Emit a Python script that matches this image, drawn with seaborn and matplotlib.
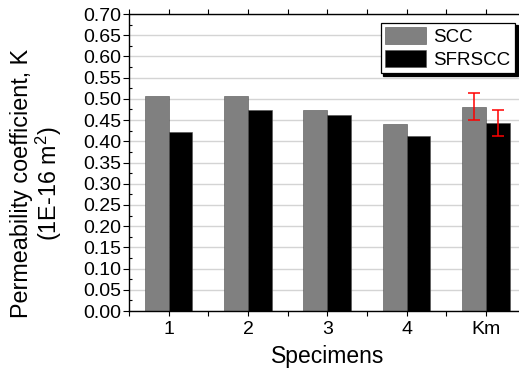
import pandas as pd
import numpy as np
import seaborn as sns
import matplotlib.pyplot as plt
from matplotlib.ticker import MultipleLocator, AutoMinorLocator

specimens = ["1", "2", "3", "4", "Km"]
scc = [0.507, 0.506, 0.474, 0.4415, 0.482]
sfrscc = [0.4226, 0.4737, 0.4627, 0.4117, 0.4427]
km_err = [0.031, 0.030]  # SCC, SFRSCC on the Km group

df = pd.DataFrame({
    "Specimens": specimens * 2,
    "K": scc + sfrscc,
    "Mix": ["SCC"] * len(scc) + ["SFRSCC"] * len(sfrscc),
})

sns.set_theme(style="white")
plt.rcParams["font.family"] = ["Liberation Sans", "DejaVu Sans"]
plt.rcParams["mathtext.fontset"] = "custom"
plt.rcParams["mathtext.rm"] = "Liberation Sans"
plt.rcParams.update({"text.color": "black", "axes.labelcolor": "black",
                     "xtick.color": "black", "ytick.color": "black"})

fig = plt.figure(figsize=(5.19, 3.71), dpi=100)
ax = fig.add_axes([0.2486, 0.1617, 0.764, 0.8005])

sns.barplot(data=df, x="Specimens", y="K", hue="Mix", palette=["#808080", "black"],
            width=0.6, errorbar=None, saturation=1, edgecolor="#505050", linewidth=0.4,
            ax=ax, zorder=2)

# error bars on the Km bars (last bar of each hue group)
bars = ax.patches
n = len(specimens)
for i, err in enumerate(km_err):
    b = bars[i * n + n - 1]
    ax.errorbar(b.get_x() + b.get_width() / 2, b.get_height(), yerr=err,
                fmt="none", ecolor="red", elinewidth=1.1, capsize=4, capthick=1.1, zorder=3)

ax.set_xlim(-0.5, 4.5)
ax.set_ylim(0, 0.70)
ax.yaxis.set_major_locator(MultipleLocator(0.05))
ax.yaxis.set_minor_locator(AutoMinorLocator(2))
ax.xaxis.set_minor_locator(MultipleLocator(0.5))
ax.yaxis.set_major_formatter(plt.FormatStrFormatter("%.2f"))
ax.grid(axis="y", which="major", color="#d4d4d4", linewidth=1, zorder=0)
ax.set_axisbelow(True)

for s in ax.spines.values():
    s.set_color("black")
    s.set_linewidth(1)
ax.tick_params(axis="y", which="major", direction="out", length=4.5, width=0.8,
               labelsize=14, left=True, pad=1)
ax.tick_params(axis="y", which="minor", direction="in", length=2.5, width=0.8, left=True)
ax.tick_params(axis="x", which="both", direction="out", length=3.5, width=0.8,
               labelsize=14, bottom=True, top=True, pad=4)

ax.set_xlabel("Specimens", fontsize=16.5, labelpad=5)
ax.set_ylabel("Permeability coefficient, K\n(1E-16 m$^2$)", fontsize=16.8,
              linespacing=1.05)
ax.yaxis.set_label_coords(-0.163, 0.43)

leg = ax.legend(loc="upper right", bbox_to_anchor=(0.973, 0.971), borderaxespad=0,
                fontsize=13.5, frameon=True, fancybox=False, edgecolor="black",
                shadow={"color": "black", "alpha": 1}, handlelength=2.2, handleheight=1.0,
                handletextpad=0.35, borderpad=0.25, labelspacing=0.2, title=None)
leg.get_frame().set_linewidth(0.9)

fig.savefig("out.png", dpi=100)
